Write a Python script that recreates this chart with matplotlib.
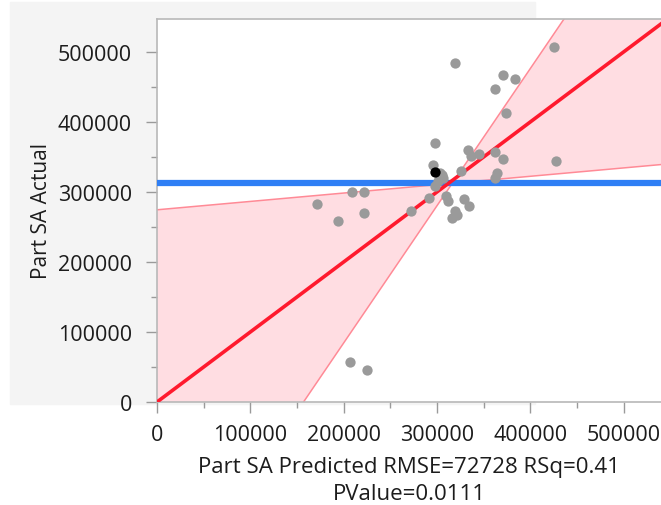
import matplotlib.pyplot as plt
from matplotlib.patches import Rectangle
import numpy as np

plt.rcParams['font.family'] = ['Open Sans', 'DejaVu Sans']

# --- data
predicted = [425700, 319600, 371000, 383200, 362100, 373600, 297500, 333600,
             336100, 345300, 362100, 371000, 427500, 295300, 325700, 363900,
             362100, 305000, 301400, 297800, 306700, 303200, 208900, 222100,
             171100, 222100, 193900, 272500, 291800, 309600, 311500, 329300,
             333900, 319300, 315700, 321100, 206800, 224700]
actual = [506500, 483500, 467200, 462000, 446700, 412200, 370200, 359600,
          351000, 354400, 356800, 347200, 344800, 339100, 330400, 327100,
          320000, 324700, 315200, 308000, 320000, 327600, 299400, 300300,
          282600, 269700, 258200, 272100, 291200, 293700, 286500, 289800,
          280300, 273100, 263500, 267300, 57800, 45900]
selected_pred = [297800]
selected_act = [328500]

mean_actual = 313000
line_x = [0, 545000]
fit_y = [0, 545000]
band_shallow = [274500, 339700]
band_steep = [-307700, 760500]

ticks = [0, 100000, 200000, 300000, 400000, 500000]
minor_ticks = [50000, 150000, 250000, 350000, 450000]

W, H = 661, 506
fig = plt.figure(figsize=(W / 100, H / 100), dpi=100)

# gray report panel behind the plot
fig.patches.append(Rectangle((10 / W, 1 - 405 / H), 525 / W, 402 / H,
                             transform=fig.transFigure, color='#f4f4f4', zorder=-10))

ax = fig.add_axes([157 / W, 1 - 403 / H, (W - 157) / W, 383 / H])
ax.set_facecolor('white')

ax.fill_between(line_x, band_shallow, band_steep, color='#ffdde2', lw=0, zorder=1)
ax.plot(line_x, band_shallow, color='#ff8a96', lw=1.1, zorder=2)
ax.plot(line_x, band_steep, color='#ff8a96', lw=1.1, zorder=2)
ax.axhline(mean_actual, color='#2f7ff5', lw=4.5, zorder=3)
ax.plot(line_x, fit_y, color='#ff1a2e', lw=2.6, zorder=4)

ax.scatter(predicted, actual, s=55, color='#9a9a9a', lw=0, zorder=5)
ax.scatter(selected_pred, selected_act, s=55, color='black', lw=0, zorder=6)

ax.set_xlim(0, 540000)
ax.set_ylim(0, 547000)
ax.set_xticks(ticks)
ax.set_yticks(ticks)
ax.set_xticks(minor_ticks, minor=True)
ax.set_yticks(minor_ticks, minor=True)
ax.set_xticklabels([str(t) for t in ticks])
ax.set_yticklabels([str(t) for t in ticks])

for side in ['top', 'left', 'bottom']:
    ax.spines[side].set_color('#b8b8b8')
    ax.spines[side].set_linewidth(1.2)
ax.spines['right'].set_visible(False)

ax.tick_params(which='major', length=8, width=1, color='#9a9a9a',
               labelsize=15.5, labelcolor='#1c1c1c')
ax.tick_params(axis='x', which='major', pad=8)
ax.tick_params(axis='y', which='major', pad=10)
ax.tick_params(which='minor', length=4, width=1, color='#9a9a9a')

ax.set_xlabel('Part SA Predicted RMSE=72728 RSq=0.41\nPValue=0.0111',
              fontsize=16, color='#1c1c1c', linespacing=1.35, labelpad=8)
ax.set_ylabel('Part SA Actual', fontsize=15, color='#1c1c1c', va='center')
ax.yaxis.set_label_coords(-0.23, 0.5)

fig.savefig('out.png', dpi=100)
